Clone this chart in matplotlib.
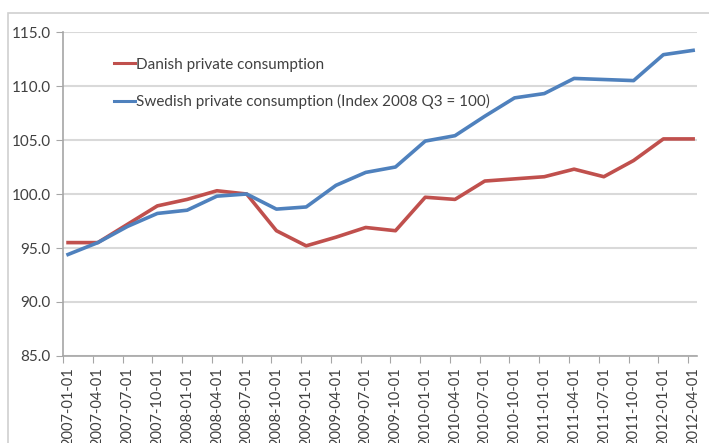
import matplotlib
matplotlib.use('Agg')
from matplotlib import pyplot as plt
from matplotlib.patches import Rectangle

# quarterly index, 2008 Q3 = 100
quarters = ['2007-01-01', '2007-04-01', '2007-07-01', '2007-10-01',
            '2008-01-01', '2008-04-01', '2008-07-01', '2008-10-01',
            '2009-01-01', '2009-04-01', '2009-07-01', '2009-10-01',
            '2010-01-01', '2010-04-01', '2010-07-01', '2010-10-01',
            '2011-01-01', '2011-04-01', '2011-07-01', '2011-10-01',
            '2012-01-01', '2012-04-01']
danish = [95.5, 95.5, 97.2, 98.9, 99.5, 100.3, 100.0, 96.6,
          95.2, 96.0, 96.9, 96.6, 99.7, 99.5, 101.2, 101.4,
          101.6, 102.3, 101.6, 103.1, 105.1, 105.1]
swedish = [94.4, 95.5, 97.0, 98.2, 98.5, 99.8, 100.0, 98.6,
           98.8, 100.8, 102.0, 102.5, 104.9, 105.4, 107.2, 108.9,
           109.3, 110.7, 110.6, 110.5, 112.9, 113.3]
y_ticks = [85, 90, 95, 100, 105, 110, 115]

plt.rcParams['font.family'] = ['Lato', 'DejaVu Sans']
txt = '#404040'
axis_col = '#a6a6a6'
grid_col = '#d9d9d9'

W, H = 709, 443
fig = plt.figure(figsize=(W / 100, H / 100), dpi=100)
fig.patches.append(Rectangle((8 / W, -0.1), 1.2, 1.1 - 13 / H,
                             transform=fig.transFigure, fill=False,
                             edgecolor='#d0d0d0', linewidth=1.2))

ax = fig.add_axes([63 / W, 1 - 356 / H, (697 - 63) / W, (356 - 32) / H])
x = list(range(len(quarters)))
ax.plot(x, danish, color='#c0504d', linewidth=2.6,
        label='Danish private consumption')
ax.plot(x, swedish, color='#4f81bd', linewidth=2.6,
        label='Swedish private consumption (Index 2008 Q3 = 100)')

ax.set_xlim(-0.17, len(quarters) - 1 + 0.13)
ax.set_ylim(85, 115)
ax.set_yticks(y_ticks)
ax.set_yticklabels(['%.1f' % v for v in y_ticks], fontsize=11, color=txt)
ax.yaxis.grid(True, color=grid_col, linewidth=1.5)
ax.set_axisbelow(True)

# tick marks sit slightly left of each category, labels under the points
ax.set_xticks([i - 0.17 for i in x])
ax.set_xticklabels([])
ax.set_xticks(x, minor=True)
ax.set_xticklabels(quarters, minor=True, rotation=90, fontsize=10.5,
                   color=txt, va='top')
ax.tick_params(axis='x', which='major', length=5, color=axis_col)
ax.tick_params(axis='x', which='minor', length=0, pad=8)
ax.tick_params(axis='y', length=5, color=axis_col, pad=4)

for s in ['top', 'right']:
    ax.spines[s].set_visible(False)
for s in ['left', 'bottom']:
    ax.spines[s].set_color(axis_col)
    ax.spines[s].set_linewidth(1.2)

leg = ax.legend(loc='upper left', bbox_to_anchor=(100 / W, 1 - 44 / H),
                bbox_transform=fig.transFigure, frameon=False,
                handlelength=1.4, handletextpad=0.05, labelspacing=1.45,
                fontsize=11)
for t in leg.get_texts():
    t.set_color(txt)
for h in leg.get_lines():
    h.set_linewidth(2.2)

fig.savefig('out.png', dpi=100)
